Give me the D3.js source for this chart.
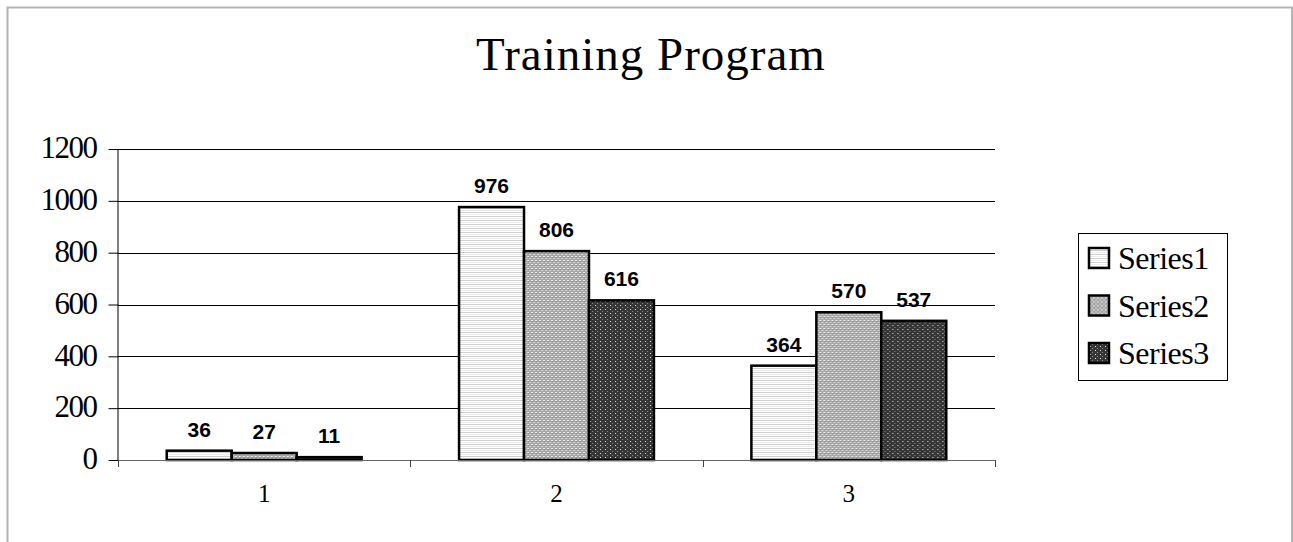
<!DOCTYPE html>
<html>
<head>
<meta charset="utf-8">
<script src="https://cdn.jsdelivr.net/npm/d3@7"></script>
<style>
  html, body { margin: 0; padding: 0; background: #fff; }
  svg { display: block; }
</style>
</head>
<body>
<svg id="chart" width="1293" height="542"></svg>
<script>
// Chart data
const title = "Training Program";
const categories = ["1", "2", "3"];
const seriesNames = ["Series1", "Series2", "Series3"];
const series1 = [36, 976, 364];
const series2 = [27, 806, 570];
const series3 = [11, 616, 537];
const yTicks = [0, 200, 400, 600, 800, 1000, 1200];

const seriesValues = [series1, series2, series3];

const svg = d3.select("#chart");
const serif = "'Liberation Serif', 'DejaVu Serif', serif";

// Outer chart frame
svg.append("rect")
  .attr("x", 7.5).attr("y", 7.5)
  .attr("width", 1284.5).attr("height", 560)
  .attr("fill", "#fff").attr("stroke", "#b4b4b4").attr("stroke-width", 2);

// Fill patterns for the three series
const defs = svg.append("defs");

// Series1: white with thin light-grey horizontal stripes
const p1 = defs.append("pattern").attr("id", "pat1")
  .attr("patternUnits", "userSpaceOnUse").attr("width", 4).attr("height", 4);
p1.append("rect").attr("width", 4).attr("height", 4).attr("fill", "#ffffff");
p1.append("rect").attr("y", 0).attr("width", 4).attr("height", 1).attr("fill", "#cfcfcf");
p1.append("rect").attr("y", 2).attr("width", 4).attr("height", 1).attr("fill", "#ececec");

// Series2: mid-grey dither
const p2 = defs.append("pattern").attr("id", "pat2")
  .attr("patternUnits", "userSpaceOnUse").attr("width", 4).attr("height", 4);
p2.append("rect").attr("width", 4).attr("height", 4).attr("fill", "#a8a8a8");
p2.append("rect").attr("x", 0).attr("y", 0).attr("width", 2).attr("height", 1).attr("fill", "#e8e8e8");
p2.append("rect").attr("x", 2).attr("y", 2).attr("width", 2).attr("height", 1).attr("fill", "#d0d0d0");
p2.append("rect").attr("x", 1).attr("y", 1).attr("width", 1).attr("height", 1).attr("fill", "#8f8f8f");

// Series3: dark grey with small light dots
const p3 = defs.append("pattern").attr("id", "pat3")
  .attr("patternUnits", "userSpaceOnUse").attr("width", 5).attr("height", 4);
p3.append("rect").attr("width", 5).attr("height", 4).attr("fill", "#363636");
p3.append("rect").attr("x", 1).attr("y", 1).attr("width", 1).attr("height", 1).attr("fill", "#e0e0e0");
p3.append("rect").attr("x", 3).attr("y", 3).attr("width", 1).attr("height", 1).attr("fill", "#8a8a8a");

const fills = ["url(#pat1)", "url(#pat2)", "url(#pat3)"];

// Plot area
const plot = { left: 118, right: 995, top: 149, bottom: 460 };

const x0 = d3.scaleBand()
  .domain(categories)
  .range([plot.left, plot.right])
  .paddingInner(0).paddingOuter(0);

// Three bars take 3 of 4.5 bar-widths in each band, centred
const groupFrac = 3 / (3 + 1.5);
const x1 = d3.scaleBand()
  .domain(seriesNames)
  .range([0, x0.bandwidth() * groupFrac])
  .padding(0);
const groupOffset = (x0.bandwidth() - x0.bandwidth() * groupFrac) / 2;

const y = d3.scaleLinear().domain([0, 1200]).range([plot.bottom, plot.top]);

// Title
svg.append("text")
  .attr("x", 651).attr("y", 70)
  .attr("text-anchor", "middle")
  .attr("font-family", serif)
  .attr("font-size", 47)
  .attr("letter-spacing", 1)
  .attr("fill", "#000")
  .text(title);

// Gridlines
svg.append("g")
  .selectAll("line")
  .data(yTicks.filter(d => d > 0))
  .join("line")
  .attr("x1", plot.left).attr("x2", plot.right)
  .attr("y1", d => Math.round(y(d)) + 0.5).attr("y2", d => Math.round(y(d)) + 0.5)
  .attr("stroke", "#000").attr("stroke-width", 1);

// Y axis
const yAxis = svg.append("g")
  .attr("transform", `translate(${plot.left + 0.5},0)`)
  .call(d3.axisLeft(y).tickValues(yTicks).tickSize(10).tickPadding(12).tickFormat(d3.format("d")));
yAxis.select(".domain").attr("stroke", "#000").attr("d", `M-0.5,${plot.top}V${plot.bottom}`);
yAxis.selectAll(".tick line").attr("stroke", "#000");
yAxis.selectAll(".tick text")
  .attr("font-family", serif)
  .attr("font-size", 31)
  .attr("letter-spacing", -1.5)
  .attr("dy", "0.28em")
  .attr("fill", "#000");

// Bars
const groups = svg.append("g")
  .selectAll("g")
  .data(categories.map((c, i) => ({ c, i })))
  .join("g")
  .attr("transform", d => `translate(${x0(d.c) + groupOffset},0)`);

groups.selectAll("rect")
  .data(d => seriesNames.map((s, k) => ({ s, k, v: seriesValues[k][d.i] })))
  .join("rect")
  .attr("x", d => x1(d.s))
  .attr("y", d => y(d.v))
  .attr("width", x1.bandwidth())
  .attr("height", d => plot.bottom - y(d.v))
  .attr("fill", d => fills[d.k])
  .attr("stroke", "#000")
  .attr("stroke-width", 2.5);

// Value labels
groups.selectAll("text")
  .data(d => seriesNames.map((s, k) => ({ s, k, v: seriesValues[k][d.i] })))
  .join("text")
  .attr("x", d => x1(d.s) + x1.bandwidth() / 2)
  .attr("y", d => y(d.v) - 14)
  .attr("text-anchor", "middle")
  .attr("font-family", "'Liberation Sans', Arial, sans-serif")
  .attr("font-weight", "bold")
  .attr("font-size", 21)
  .attr("fill", "#000")
  .text(d => d.v);

// X axis (baseline with ticks between categories)
const xAxis = svg.append("g");
xAxis.append("line")
  .attr("x1", plot.left).attr("x2", plot.right)
  .attr("y1", plot.bottom + 0.5).attr("y2", plot.bottom + 0.5)
  .attr("stroke", "#666").attr("stroke-width", 1);
const tickXs = categories.map(c => x0(c)).concat([plot.right]);
xAxis.selectAll("line.tk")
  .data(tickXs)
  .join("line")
  .attr("class", "tk")
  .attr("x1", d => Math.round(d) + 0.5).attr("x2", d => Math.round(d) + 0.5)
  .attr("y1", plot.bottom).attr("y2", plot.bottom + 7)
  .attr("stroke", "#444");
xAxis.selectAll("text")
  .data(categories)
  .join("text")
  .attr("x", d => x0(d) + x0.bandwidth() / 2)
  .attr("y", plot.bottom + 42)
  .attr("text-anchor", "middle")
  .attr("font-family", serif)
  .attr("font-size", 25)
  .attr("fill", "#000")
  .text(d => d);

// Legend
const legend = svg.append("g");
legend.append("rect")
  .attr("x", 1078.5).attr("y", 233.5)
  .attr("width", 149).attr("height", 147)
  .attr("fill", "#fff").attr("stroke", "#000").attr("stroke-width", 1);
const li = legend.selectAll("g")
  .data(seriesNames)
  .join("g")
  .attr("transform", (d, i) => `translate(1089,${258 + i * 47.5})`);
li.append("rect")
  .attr("x", 0).attr("y", -10)
  .attr("width", 20).attr("height", 20)
  .attr("fill", (d, i) => fills[i])
  .attr("stroke", "#000").attr("stroke-width", 2.5);
li.append("text")
  .attr("x", 29).attr("y", 11)
  .attr("font-family", serif)
  .attr("font-size", 32)
  .attr("letter-spacing", -0.5)
  .attr("fill", "#000")
  .text(d => d);
</script>
</body>
</html>
